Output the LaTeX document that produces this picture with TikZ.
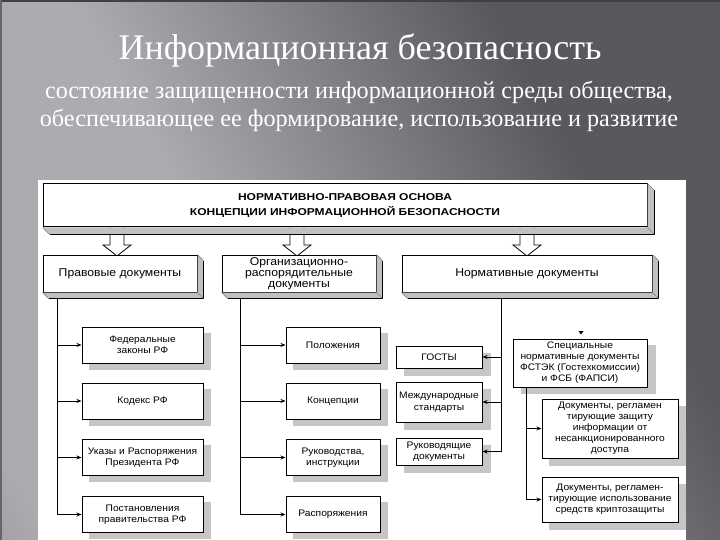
\documentclass[tikz,border=0pt]{standalone}
\usepackage{fontspec}
\setmainfont{Liberation Serif}
\newfontfamily\dg[FakeStretch=1.08]{Liberation Sans}
\newfontfamily\dgh[FakeStretch=1.2]{Liberation Sans}
\usetikzlibrary{arrows.meta,calc}
\definecolor{bgD}{RGB}{88,88,94}
\definecolor{bgL}{RGB}{172,172,176}
\definecolor{bgM}{RGB}{128,128,133}
\definecolor{bevel}{RGB}{192,192,192}
\definecolor{shd}{RGB}{198,198,198}
\pgfdeclarehorizontalshading{bgband}{100bp}{color(0bp)=(bgM); color(20bp)=(bgM); color(30bp)=(bgL); color(44bp)=(bgL); color(62bp)=(bgD); color(100bp)=(bgD)}
\pgfdeclarelayer{bglayer}
\pgfdeclarelayer{shlayer}
\pgfsetlayers{bglayer,shlayer,main}
\tikzset{
  flat/.style={draw=black, line width=1pt, fill=white, inner sep=1pt, align=center,
    font=\dg\fontsize{9.5}{11.5}\selectfont},
  bevbox/.style={draw=black, line width=1pt, fill=white, inner sep=1pt, align=center,
    font=\dg\fontsize{11.3}{12}\selectfont},
  conn/.style={line width=0.8pt},
  arr/.style={-{Stealth[length=5pt,width=4pt]}, line width=0.8pt},
  blockarrow/.style={draw=black, line width=0.8pt, fill=white},
}
\newcommand{\bevelof}[2]{% node, depth
  \fill[bevel] (#1.south west) -- ($(#1.south west)+(#2,#2)$) -- ($(#1.south east)+(#2,#2)$)
    -- ($(#1.north east)+(#2,#2)$) -- (#1.north east) -- (#1.south east) -- cycle;
  \draw[line width=1pt] ($(#1.south west)+(#2,#2)$) -- ($(#1.south east)+(#2,#2)$) -- ($(#1.north east)+(#2,#2)$);
  \draw[line width=0.5pt, gray] (#1.south west) -- ($(#1.south west)+(#2,#2)$);
  \draw[line width=0.5pt, gray] (#1.north east) -- ($(#1.north east)+(#2,#2)$);
  \draw[line width=0.5pt, gray] (#1.south east) -- ($(#1.south east)+(#2,#2)$);
}
\newcommand{\shadowof}[3]{% node, dx, dy
  \begin{pgfonlayer}{shlayer}
  \fill[shd] ($(#1.south west)+(#2,#3)$) rectangle ($(#1.north east)+(#2,#3)$);
  \end{pgfonlayer}
}
\begin{document}
\begin{tikzpicture}[x=1pt,y=-1pt]
\useasboundingbox (0,0) rectangle (720,540);
% background
\begin{pgfonlayer}{bglayer}
\fill[bgD] (0,0) rectangle (720,540);
\begin{scope}
\clip (0,0) rectangle (720,540);
\begin{scope}[transform canvas={rotate around={29:(360,270)}}]
\shade[shading=bgband] (-140,-500) rectangle (860,1040);
\end{scope}
\end{scope}
\fill[black!75] (0,0) rectangle (720,2);
\fill[black!60] (0,0) rectangle (2,540);
\fill[white] (38,180) rectangle (686,540);
\end{pgfonlayer}

% title
\node[text=white, font=\fontsize{36}{40}\selectfont] (title) at (360,50) {Информационная безопасность};
\node[text=white, font=\fontsize{24.2}{28}\selectfont, align=center] (sub) at (359,106)
  {состояние защищенности информационной среды общества,\\обеспечивающее ее формирование, использование и развитие};

% block arrows
\foreach \cx in {117, 297, 527}{
  \draw[blockarrow] (\cx-7,226) -- (\cx+7,226) -- (\cx+7,245) -- (\cx+14,245) -- (\cx,256)
    -- (\cx-14,245) -- (\cx-7,245) -- cycle;
}

% top box
\node[bevbox, minimum width=604, minimum height=43, font=\dgh\bfseries\fontsize{10}{15}\selectfont] (top) at (345,205.5)
  {НОРМАТИВНО-ПРАВОВАЯ ОСНОВА\\КОНЦЕПЦИИ ИНФОРМАЦИОННОЙ БЕЗОПАСНОСТИ};
\bevelof{top}{7}

% second row
\node[bevbox, minimum width=154, minimum height=37] (A) at (120,273.5) {Правовые документы};
\bevelof{A}{6}
\node[bevbox, minimum width=154, minimum height=37, inner sep=0pt, font=\dg\fontsize{11.3}{10.8}\selectfont] (B) at (299,273.5) {Организационно-\\распорядительные\\документы};
\bevelof{B}{6}
\node[bevbox, minimum width=250, minimum height=37] (C) at (527,273.5) {Нормативные документы};
\bevelof{C}{6}

% left column
\node[flat, minimum width=121, minimum height=36] (f1) at (142.5,345) {Федеральные\\законы РФ};
\node[flat, minimum width=121, minimum height=36] (f2) at (142.5,401) {Кодекс РФ};
\node[flat, minimum width=121, minimum height=36] (f3) at (142.5,457.5) {Указы и Распоряжения\\Президента РФ};
\node[flat, minimum width=121, minimum height=36] (f4) at (142.5,514.5) {Постановления\\правительства РФ};
\foreach \n in {f1,f2,f3,f4}{\shadowof{\n}{7}{6}}
\coordinate (lA) at (57,298);
\draw[conn] (lA) -- (lA |- f4.west);
\foreach \n in {f1,f2,f3,f4}{\draw[arr] (lA |- \n.west) -- (\n.west);}

% middle column
\node[flat, minimum width=94, minimum height=36] (m1) at (333,345) {Положения};
\node[flat, minimum width=94, minimum height=36] (m2) at (333,401) {Концепции};
\node[flat, minimum width=94, minimum height=36] (m3) at (333,457.5) {Руководства,\\инструкции};
\node[flat, minimum width=94, minimum height=36] (m4) at (333,514.5) {Распоряжения};
\foreach \n in {m1,m2,m3,m4}{\shadowof{\n}{7}{6}}
\coordinate (lB) at (240,298);
\draw[conn] (lB) -- (lB |- m4.west);
\foreach \n in {m1,m2,m3,m4}{\draw[arr] (lB |- \n.west) -- (\n.west);}

% right column
\node[flat, minimum width=86, minimum height=22] (g1) at (439,357) {ГОСТЫ};
\node[flat, minimum width=86, minimum height=40] (g2) at (439,402) {Международные\\стандарты};
\node[flat, minimum width=86, minimum height=27] (g3) at (439,451.5) {Руководящие\\документы};
\foreach \n in {g1,g2,g3}{\shadowof{\n}{8}{7}}
\coordinate (lC) at (501,298);
\draw[arr] (lC) |- (g3.east);
\draw[arr] (lC |- g1.east) -- (g1.east);
\draw[arr] (lC |- g2.east) -- (g2.east);

% special documents
\node[flat, minimum width=134, minimum height=48, font=\dg\fontsize{9.5}{11}\selectfont] (sp) at (580,363)
  {Специальные\\нормативные документы\\ФСТЭК (Гостехкомиссии)\\и ФСБ (ФАПСИ)};
\shadowof{sp}{8}{6}
\fill (578.5,331) -- (583.5,331) -- (581,334.5) -- cycle;

\node[flat, minimum width=136, minimum height=59, font=\dg\fontsize{9.5}{11}\selectfont] (d1) at (610,428.5)
  {Документы, регламен\\тирующие защиту\\информации от\\несанкционированного\\доступа};
\node[flat, minimum width=136, minimum height=45, font=\dg\fontsize{9.5}{11}\selectfont] (d2) at (610,499.5)
  {Документы, регламен-\\тирующие использование\\средств криптозащиты};
\begin{pgfonlayer}{shlayer}
\begin{scope}
\clip (38,180) rectangle (686,540);
\fill[shd] ($(d1.south west)+(7,7)$) rectangle ($(d1.north east)+(7,7)$);
\fill[shd] ($(d2.south west)+(7,7)$) rectangle ($(d2.north east)+(7,7)$);
\end{scope}
\end{pgfonlayer}
\coordinate (lS) at (526,387);
\draw[arr] (lS) |- (d2.west);
\draw[arr] (lS |- d1.west) -- (d1.west);
\end{tikzpicture}
\end{document}
